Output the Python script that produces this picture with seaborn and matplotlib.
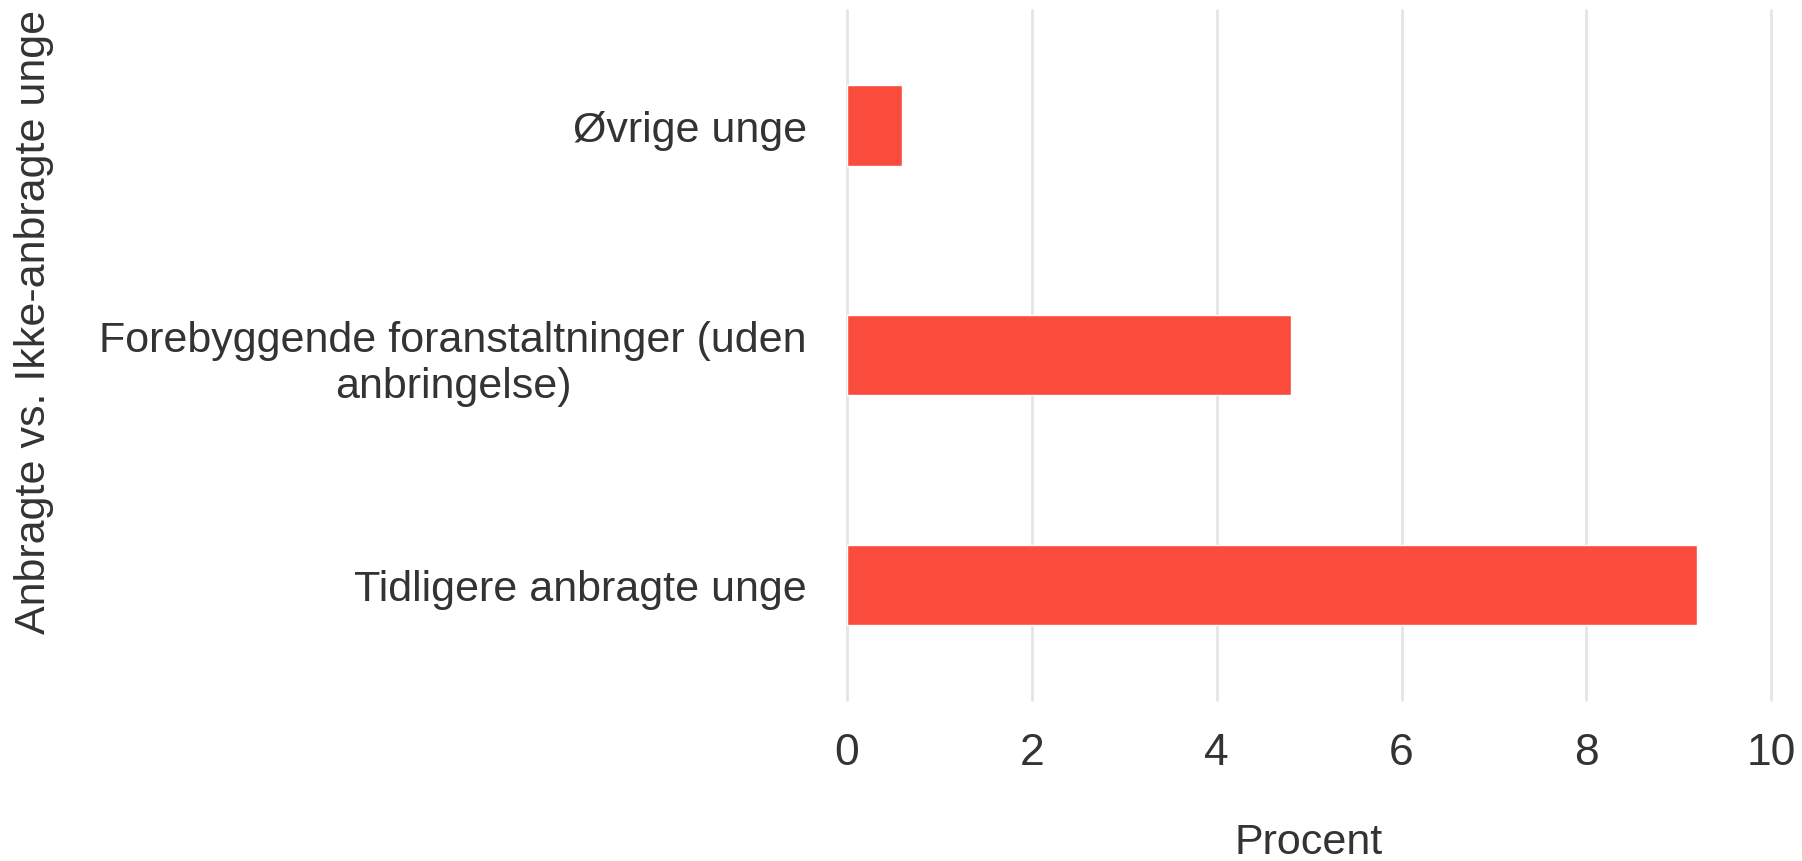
import matplotlib
matplotlib.use("Agg")
import matplotlib.pyplot as plt
import seaborn as sns
import pandas as pd

categories = ["Øvrige unge", "Forebyggende foranstaltninger (uden\nanbringelse)", "Tidligere anbragte unge"]
values = [0.6, 4.8, 9.2]
xticks = [0, 2, 4, 6, 8, 10]

sns.set_theme(style="whitegrid")
plt.rcParams['font.family'] = ['Liberation Sans', 'DejaVu Sans']

df = pd.DataFrame({"cat": categories, "val": values})

fig = plt.figure(figsize=(18.02, 8.62), dpi=100)
ax = fig.add_axes([0.470, 0.187, 0.513, 0.7997])
sns.barplot(data=df, y="cat", x="val", color="#F94C3C", width=0.35, ax=ax, saturation=1)

text_color = "#333333"
fs = 31
ax.set_xlim(0, 10)
ax.set_xticks(xticks)
ax.set_xticklabels([str(t) for t in xticks], fontsize=32, color=text_color)
ax.tick_params(axis='y', labelsize=fs, labelcolor=text_color, pad=29, length=0)
ax.tick_params(axis='x', pad=23, length=0)
for lab in ax.get_yticklabels():
    lab.set_horizontalalignment('right')
    lab.set_multialignment('center')
ax.grid(axis='x', color="#e5e5e5", linewidth=2)
ax.grid(axis='y', visible=False)
for sp in ax.spines.values():
    sp.set_visible(False)
for gl in ax.get_xgridlines():
    gl.set_clip_on(False)

ax.set_xlabel("")
ax.set_ylabel("")
fig.text(0.726, 0.022, "Procent", fontsize=fs, color=text_color, ha='center', va='center')
fig.text(0.019, 0.626, "Anbragte vs. Ikke-anbragte unge", rotation=90, fontsize=fs,
         color=text_color, ha='center', va='center')

fig.savefig("out.png", dpi=100, facecolor="white")
